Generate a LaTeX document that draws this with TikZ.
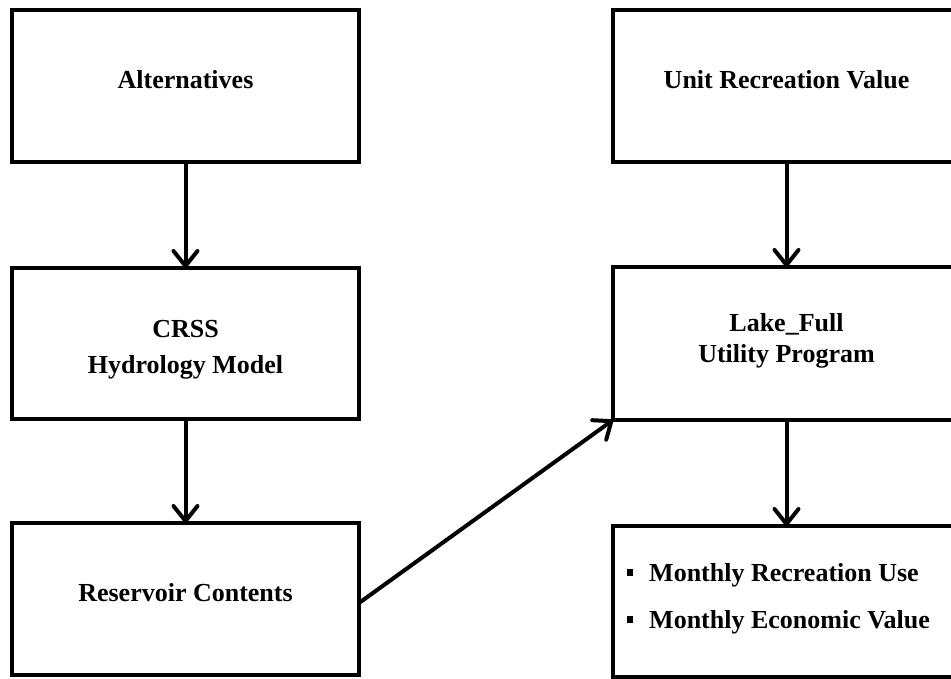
\documentclass[tikz,border=0pt]{standalone}
\usepackage{fontspec}
\setmainfont{Liberation Serif}
\usetikzlibrary{arrows.meta}
\begin{document}
\begin{tikzpicture}[x=1pt,y=-1pt,
  box/.style={draw=black,line width=4pt,rectangle,minimum width=347pt,minimum height=152pt,inner sep=0pt,outer sep=0pt},
  txt/.style={font=\fontsize{26}{30}\selectfont\bfseries,inner sep=0pt,anchor=base},
  arr/.style={line width=4pt,-{Straight Barb[length=15pt,width=24pt,line cap=round,line join=round]}}]
\useasboundingbox (0,0) rectangle (951,678);
\clip (0,0) rectangle (951,678);
% left column
\node[box] (alt) at (185.5,86) {};
\node[box,minimum height=151pt] (crss) at (185.5,343.5) {};
\node[box] (res) at (185.5,599) {};
% right column
\node[box] (urv) at (786.5,86) {};
\node[box,minimum height=153pt] (lake) at (786.5,343.5) {};
\node[box,minimum height=151pt] (out) at (786.5,601.5) {};
% texts
\node[txt] (altT) at (185.5,88) {Alternatives};
\node[txt] (crssT1) at (185.5,337) {CRSS};
\node[txt] (crssT2) at (185.5,373) {Hydrology Model};
\node[txt] (resT) at (185.5,601) {Reservoir Contents};
\node[txt] (urvT) at (786.5,88) {Unit Recreation Value};
\node[txt] (lakeT1) at (786.5,331) {Lake\_Full};
\node[txt] (lakeT2) at (786.5,362) {Utility Program};
\node[txt,anchor=base west] (outT1) at (627,581) {\rule[5pt]{6pt}{7pt}\hspace{16pt}Monthly Recreation Use};
\node[txt,anchor=base west] (outT2) at (627,628) {\rule[5pt]{6pt}{7pt}\hspace{16pt}Monthly Economic Value};
% connectors
\draw[arr] (alt.south) -- (crss.north);
\draw[arr] (crss.south) -- (res.north);
\draw[arr] (urv.south) -- (lake.north);
\draw[arr] (lake.south) -- (out.north);
\draw[arr] ([yshift=-4pt]res.east) -- (lake.south west);
\end{tikzpicture}
\end{document}
